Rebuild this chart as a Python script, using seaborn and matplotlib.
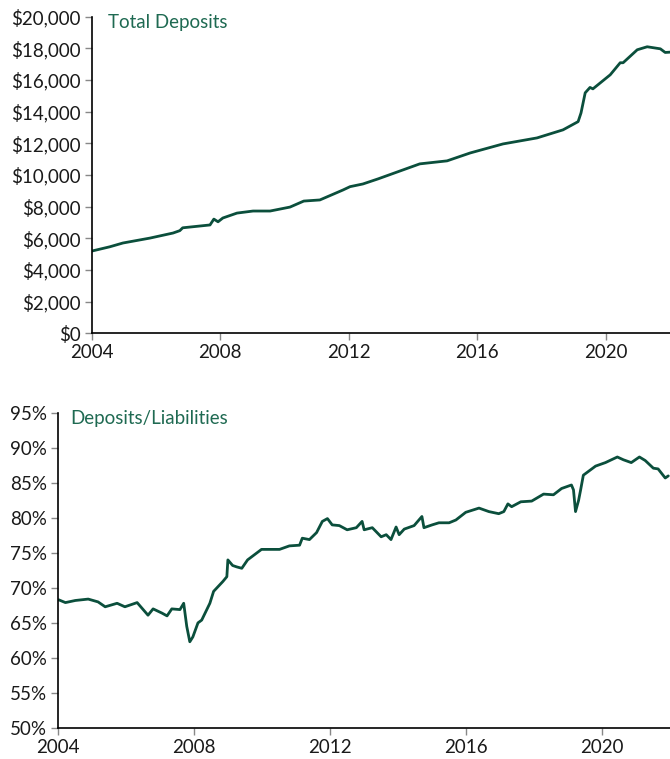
import numpy as np
import pandas as pd
import matplotlib
matplotlib.use("Agg")
import matplotlib.pyplot as plt
import seaborn as sns
from matplotlib.ticker import FuncFormatter

# ── DATA ─────────────────────────────────────────────────────────
dep_years = [2004.00, 2004.56, 2004.97, 2005.81, 2006.53, 2006.74, 2006.83,
             2007.68, 2007.80, 2007.93, 2008.08, 2008.52, 2009.02, 2009.55,
             2010.17, 2010.60, 2011.10, 2011.82, 2012.04, 2012.44, 2012.91,
             2013.69, 2014.21, 2015.06, 2015.78, 2016.80, 2017.86, 2018.67,
             2019.14, 2019.23, 2019.36, 2019.51, 2019.60, 2020.14, 2020.45,
             2020.54, 2020.98, 2021.29, 2021.70, 2021.85, 2022.00]
dep_values = [5190, 5460, 5700, 6010, 6330, 6480, 6660,
              6840, 7210, 7040, 7280, 7590, 7720, 7720,
              7970, 8350, 8420, 9050, 9260, 9430, 9750,
              10320, 10700, 10890, 11390, 11960, 12340, 12850,
              13370, 13920, 15190, 15530, 15440, 16330, 17090,
              17090, 17910, 18100, 17970, 17740, 17760]

ratio_years = [2004.01, 2004.21, 2004.50, 2004.88, 2005.17, 2005.38, 2005.73,
               2005.96, 2006.32, 2006.64, 2006.79, 2007.05, 2007.20, 2007.34,
               2007.58, 2007.69, 2007.78, 2007.87, 2007.96, 2008.11, 2008.22,
               2008.46, 2008.57, 2008.84, 2008.96, 2008.99, 2009.13, 2009.25,
               2009.40, 2009.57, 2009.98, 2010.51, 2010.80, 2011.10, 2011.18,
               2011.39, 2011.60, 2011.77, 2011.92, 2012.06, 2012.27, 2012.50,
               2012.77, 2012.94, 2013.00, 2013.24, 2013.50, 2013.65, 2013.79,
               2013.94, 2014.03, 2014.18, 2014.47, 2014.70, 2014.76, 2015.00,
               2015.20, 2015.50, 2015.70, 2015.99, 2016.38, 2016.67, 2016.96,
               2017.11, 2017.23, 2017.34, 2017.61, 2017.93, 2018.28, 2018.57,
               2018.81, 2019.10, 2019.16, 2019.22, 2019.31, 2019.37, 2019.45,
               2019.81, 2020.10, 2020.45, 2020.63, 2020.86, 2021.10, 2021.27,
               2021.51, 2021.65, 2021.86, 2021.95]
ratio_values = [68.3, 67.9, 68.2, 68.4, 68.0, 67.3, 67.8,
                67.3, 67.9, 66.1, 67.0, 66.4, 66.0, 67.0,
                66.9, 67.8, 64.5, 62.3, 63.0, 65.0, 65.4,
                67.8, 69.5, 70.9, 71.6, 74.0, 73.2, 73.0,
                72.8, 74.0, 75.5, 75.5, 76.0, 76.1, 77.1,
                76.9, 77.9, 79.5, 79.9, 79.0, 78.9, 78.3,
                78.6, 79.5, 78.3, 78.6, 77.3, 77.6, 76.9,
                78.7, 77.6, 78.4, 78.9, 80.2, 78.6, 79.0,
                79.3, 79.3, 79.7, 80.8, 81.4, 80.9, 80.6,
                80.9, 82.0, 81.6, 82.3, 82.4, 83.4, 83.3,
                84.2, 84.7, 84.0, 80.9, 82.5, 84.0, 86.1,
                87.4, 87.9, 88.7, 88.3, 87.9, 88.7, 88.2,
                87.1, 87.0, 85.7, 86.0]

year_ticks = [2004, 2008, 2012, 2016, 2020]
dep_ticks = list(range(0, 20001, 2000))
ratio_ticks = list(range(50, 96, 5))

# ── STYLE ────────────────────────────────────────────────────────
sns.set_style("ticks")
plt.rcParams["font.family"] = ["Lato", "DejaVu Sans"]
LINE = "#0b4f3c"
TITLE = "#1f6a52"
TXT = "#1a1a1a"
FS = 13.5

df_dep = pd.DataFrame({"year": dep_years, "value": dep_values})
df_ratio = pd.DataFrame({"year": ratio_years, "value": ratio_values})

fig = plt.figure(figsize=(6.70, 7.59), dpi=100)
ax1 = fig.add_axes([0.137, 0.561, 0.863, 0.417])
ax2 = fig.add_axes([0.087, 0.041, 0.913, 0.415])

sns.lineplot(data=df_dep, x="year", y="value", ax=ax1, color=LINE, lw=2.0)
sns.lineplot(data=df_ratio, x="year", y="value", ax=ax2, color=LINE, lw=2.0)

ax1.set_ylim(0, 20000)
ax1.set_yticks(dep_ticks)
ax1.yaxis.set_major_formatter(FuncFormatter(lambda v, _: f"${v:,.0f}"))
ax2.set_ylim(50, 95)
ax2.set_yticks(ratio_ticks)
ax2.yaxis.set_major_formatter(FuncFormatter(lambda v, _: f"{v:.0f}%"))

for ax, title, tx in [(ax1, "Total Deposits", 0.028), (ax2, "Deposits/Liabilities", 0.02)]:
    ax.set_xlim(2004, 2022)
    ax.set_xticks(year_ticks)
    ax.set_xlabel(""); ax.set_ylabel("")
    for s in ["top", "right"]:
        ax.spines[s].set_visible(False)
    for s in ["left", "bottom"]:
        ax.spines[s].set_color("black")
        ax.spines[s].set_linewidth(1.2)
    ax.tick_params(axis="both", length=5, width=1, color="#888888",
                   labelsize=FS, labelcolor=TXT, pad=3)
    ax.text(tx, 1.01, title, transform=ax.transAxes, ha="left", va="top",
            fontsize=FS, color=TITLE)

fig.savefig("out.png", dpi=100)
